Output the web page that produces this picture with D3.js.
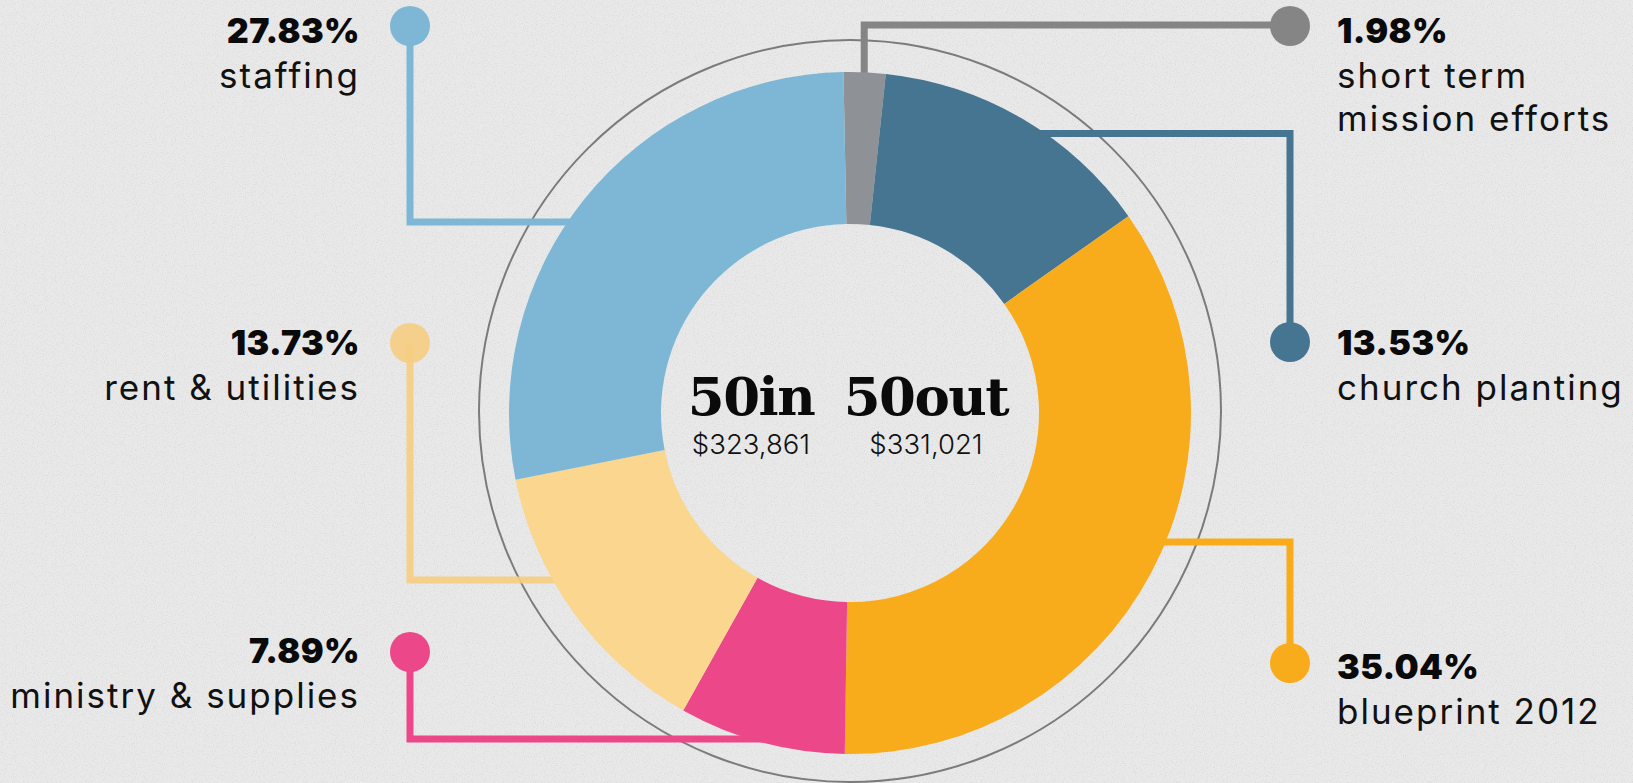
<!DOCTYPE html>
<html>
<head>
<meta charset="utf-8">
<script src="https://cdn.jsdelivr.net/npm/d3@7"></script>
<style>
  html, body { margin: 0; padding: 0; background: #e8e8e8; }
  svg { display: block; }
</style>
</head>
<body>
<svg width="1633" height="783"></svg>
<script>
// slices, clockwise from the top
const categories = ["short term mission efforts", "church planting", "blueprint 2012", "ministry & supplies", "rent & utilities", "staffing"];
const shares = [1.98, 13.53, 35.04, 7.89, 13.73, 27.83];
const percentLabels = ["1.98%", "13.53%", "35.04%", "7.89%", "13.73%", "27.83%"];
const nameLines = [["short term", "mission efforts"], ["church planting"], ["blueprint 2012"], ["ministry & supplies"], ["rent & utilities"], ["staffing"]];
const colors = ["#8e9196", "#467591", "#f9ac1b", "#ec4889", "#fbd68e", "#7eb7d5"];
const lineColors = ["#858585", "#467591", "#f9ac1b", "#ec4889", "#f6cd82", "#7eb7d5"];

const totalIn = "$323,861";
const totalOut = "$331,021";

const svg = d3.select("svg");
const W = 1633, H = 783;
const cx = 850, cy = 413;
const outerR = 341, innerR = 189, ringR = 371;
const startOffset = -1.1 * Math.PI / 180;

// paper background with a bit of grain
const defs = svg.append("defs");
const grain = defs.append("filter").attr("id", "grain").attr("x", 0).attr("y", 0).attr("width", "100%").attr("height", "100%");
grain.append("feTurbulence").attr("type", "fractalNoise").attr("baseFrequency", 0.9).attr("numOctaves", 2).attr("seed", 4);
grain.append("feColorMatrix").attr("type", "matrix")
  .attr("values", "0 0 0 0 0  0 0 0 0 0  0 0 0 0 0  0 0 0 -1.4 0.75");

svg.append("rect").attr("width", W).attr("height", H).attr("fill", "#e9e9e9");
svg.append("rect").attr("width", W).attr("height", H).attr("filter", "url(#grain)").attr("opacity", 0.1);

const pie = d3.pie().sort(null).value(d => d)
  .startAngle(startOffset).endAngle(startOffset + 2 * Math.PI);
const arcs = pie(shares);
const arc = d3.arc().innerRadius(innerR).outerRadius(outerR);

// thin outer ring
svg.append("circle")
  .attr("cx", cx).attr("cy", cy - 2).attr("r", ringR)
  .attr("fill", "none").attr("stroke", "#7b7b7b").attr("stroke-width", 2);

// callout layout: dot position and the height where the leader leaves the ring
const dotR = 20;
const callouts = [
  { side: "right", dotX: 1290, dotY: 26, elbowY: 25, vertical: true },
  { side: "right", dotX: 1290, dotY: 342, elbowY: 133.5 },
  { side: "right", dotX: 1290, dotY: 663, elbowY: 542 },
  { side: "left", dotX: 410, dotY: 652, elbowY: 739 },
  { side: "left", dotX: 410, dotY: 343, elbowY: 580 },
  { side: "left", dotX: 410, dotY: 26, elbowY: 222 }
];
const textY = [[42.7, 88.3, 130.5], [355, 400], [679.3, 724], [663.3, 708.3], [355, 400], [42.7, 88.3]];

function leaderPath(a, c) {
  const p = d3.path();
  if (c.vertical) {
    const mid = (a.startAngle + a.endAngle) / 2;
    const x0 = cx + (outerR - 10) * Math.sin(mid);
    const y0 = cy - (outerR - 10) * Math.cos(mid);
    p.moveTo(x0, y0);
    p.lineTo(x0, c.elbowY);
    p.lineTo(c.dotX, c.elbowY);
  } else {
    const dy = c.elbowY - cy;
    const dx = Math.sqrt(Math.max(0, outerR * outerR - dy * dy)) - 12;
    const x0 = c.side === "right" ? cx + dx : cx - dx;
    p.moveTo(x0, c.elbowY);
    p.lineTo(c.dotX, c.elbowY);
    p.lineTo(c.dotX, c.dotY);
  }
  return p.toString();
}

const leaders = svg.append("g").attr("class", "leaders");
leaders.selectAll("path")
  .data(arcs)
  .enter().append("path")
  .attr("d", (d, i) => leaderPath(d, callouts[i]))
  .attr("fill", "none")
  .attr("stroke", (d, i) => lineColors[i])
  .attr("stroke-width", 7)
  .attr("opacity", (d, i) => i === 4 ? 0.9 : 1);

leaders.selectAll("circle")
  .data(arcs)
  .enter().append("circle")
  .attr("cx", (d, i) => callouts[i].dotX)
  .attr("cy", (d, i) => callouts[i].dotY)
  .attr("r", dotR)
  .attr("fill", (d, i) => lineColors[i])
  .attr("opacity", (d, i) => i === 4 ? 0.9 : 1);

// donut
svg.append("g")
  .attr("transform", "translate(" + cx + "," + cy + ")")
  .selectAll("path")
  .data(arcs)
  .enter().append("path")
  .attr("d", arc)
  .attr("fill", (d, i) => colors[i]);

// labels
const labels = svg.append("g").attr("class", "labels");
arcs.forEach(function (d, i) {
  const c = callouts[i];
  const right = c.side === "right";
  const x = right ? c.dotX + 47 : c.dotX - 50;
  const anchor = right ? "start" : "end";
  labels.append("text")
    .attr("x", x).attr("y", textY[i][0])
    .attr("text-anchor", anchor)
    .attr("font-family", "Inter, 'Noto Sans', sans-serif")
    .attr("font-weight", 900)
    .attr("font-size", 34)
    .attr("letter-spacing", 0.4)
    .attr("fill", "#0a0a0a")
    .text(percentLabels[i]);
  nameLines[i].forEach(function (line, j) {
    labels.append("text")
      .attr("x", x).attr("y", textY[i][j + 1])
      .attr("text-anchor", anchor)
      .attr("font-family", "Inter, 'Noto Sans', sans-serif")
      .attr("font-weight", 400)
      .attr("font-size", 35)
      .attr("letter-spacing", 2)
      .attr("fill", "#111")
      .text(line);
  });
});

// centre titles
const centre = svg.append("g");
[["50in", totalIn, 751], ["50out", totalOut, 926]].forEach(function (t) {
  centre.append("text")
    .attr("x", t[2]).attr("y", 415)
    .attr("text-anchor", "middle")
    .attr("font-family", "'DejaVu Serif', serif")
    .attr("font-weight", 700)
    .attr("font-size", 53)
    .attr("letter-spacing", -1.5)
    .attr("fill", "#0a0a0a")
    .text(t[0]);
  centre.append("text")
    .attr("x", t[2]).attr("y", 454)
    .attr("text-anchor", "middle")
    .attr("font-family", "Inter, 'Noto Sans', sans-serif")
    .attr("font-weight", 300)
    .attr("font-size", 27.5)
    .attr("fill", "#111")
    .text(t[1]);
});
</script>
</body>
</html>
